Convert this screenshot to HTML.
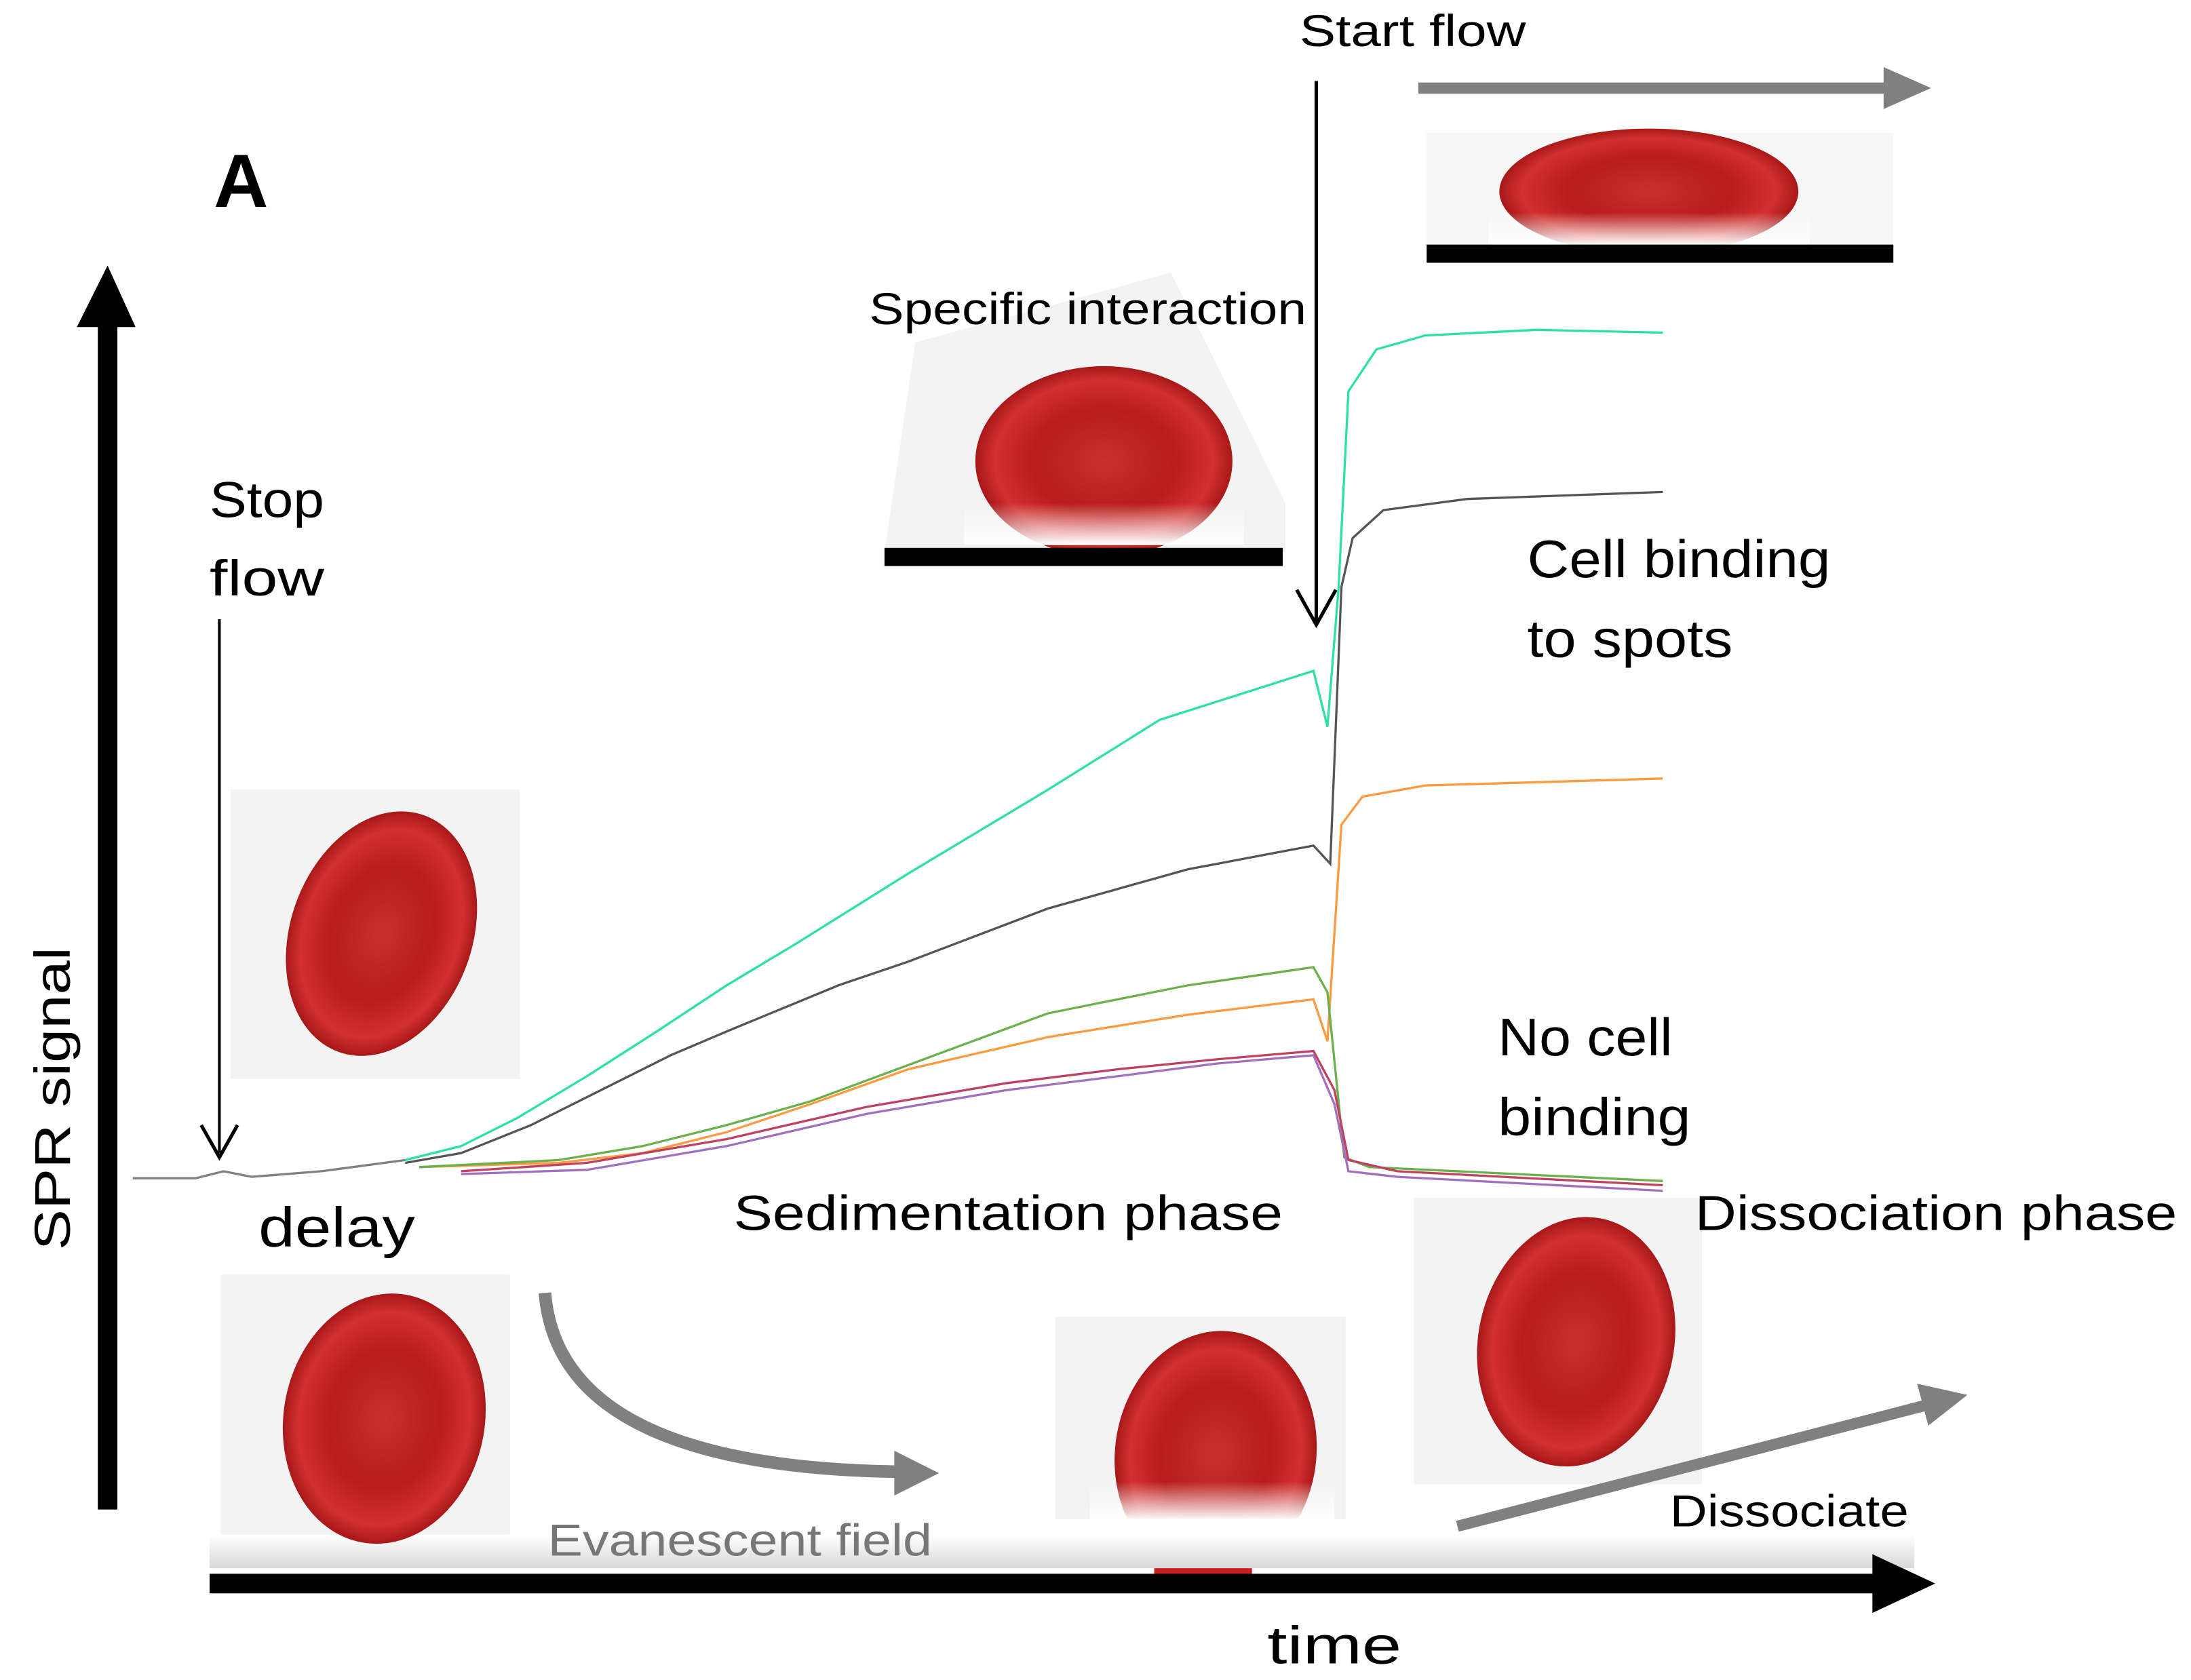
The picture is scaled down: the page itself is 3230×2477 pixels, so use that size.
<!DOCTYPE html>
<html><head><meta charset="utf-8"><style>
html,body{margin:0;padding:0;background:#fff;}
svg{display:block;}
text{font-family:"Liberation Sans","DejaVu Sans",sans-serif;fill:#000;}
</style></head><body>
<svg width="3230" height="2477" viewBox="0 0 1568 1202" preserveAspectRatio="none" xmlns="http://www.w3.org/2000/svg">
<defs>
<radialGradient id="rbc" cx="50%" cy="50%" r="50%">
<stop offset="0" stop-color="#c8302f"/><stop offset="0.55" stop-color="#b81c1c"/><stop offset="0.85" stop-color="#d23030"/><stop offset="1" stop-color="#a81818"/>
</radialGradient>
<linearGradient id="surf" x1="0" y1="0" x2="0" y2="1">
<stop offset="0" stop-color="#fff"/><stop offset="1" stop-color="#d8d8d8"/>
</linearGradient>
<linearGradient id="fade" x1="0" y1="0" x2="0" y2="1">
<stop offset="0" stop-color="#fff" stop-opacity="0"/><stop offset="1" stop-color="#fff" stop-opacity="1"/>
</linearGradient>
<clipPath id="c3"><rect x="740" y="930" width="240" height="157"/></clipPath>
</defs>
<rect width="1568" height="1202" fill="#fff"/>

<rect x="165" y="565" width="207" height="207" fill="#f3f3f3"/>
<rect x="158" y="912" width="207" height="193" fill="#f3f3f3"/>
<rect x="755" y="942" width="208" height="145" fill="#f3f3f3"/>
<rect x="1012" y="857" width="206" height="205" fill="#f3f3f3"/>
<polygon points="655,245 838,195 920,360 920,395 633,395" fill="#f3f3f3"/>
<rect x="1021" y="95" width="334" height="80" fill="#f6f6f6"/>

<rect x="150" y="1098" width="1220" height="24" fill="url(#surf)"/>

<ellipse cx="273" cy="668" rx="65" ry="90" transform="rotate(20 273 668)" fill="url(#rbc)"/>
<ellipse cx="275" cy="1015" rx="72" ry="90" transform="rotate(10 275 1015)" fill="url(#rbc)"/>
<g clip-path="url(#c3)">
<ellipse cx="870" cy="1040" rx="72" ry="88" transform="rotate(8 870 1040)" fill="url(#rbc)"/>
<rect x="780" y="1060" width="175" height="28" fill="url(#fade)"/>
</g>
<ellipse cx="1128" cy="960" rx="70" ry="90" transform="rotate(12 1128 960)" fill="url(#rbc)"/>
<ellipse cx="790" cy="330" rx="92" ry="68" fill="url(#rbc)"/>
<rect x="690" y="360" width="200" height="30" fill="url(#fade)"/>
<rect x="633" y="392" width="285" height="13" fill="#000"/>
<ellipse cx="1180" cy="137" rx="107" ry="45" fill="url(#rbc)"/>
<rect x="1065" y="152" width="230" height="24" fill="url(#fade)"/>
<rect x="1021" y="175" width="334" height="13" fill="#000"/>
<rect x="826" y="1122" width="70" height="5" fill="#c82020"/>

<line x1="77" y1="1080" x2="77" y2="228" stroke="#000" stroke-width="14"/>
<polygon points="55,234 77,190 97,234" fill="#000"/>
<line x1="150" y1="1133" x2="1345" y2="1133" stroke="#000" stroke-width="14"/>
<polygon points="1340,1112 1385,1133 1340,1154" fill="#000"/>

<line x1="1015" y1="63" x2="1350" y2="63" stroke="#808080" stroke-width="8"/>
<polygon points="1348,48 1382,63 1348,78" fill="#808080"/>
<path d="M390,925 Q400,1050 645,1053" fill="none" stroke="#808080" stroke-width="9"/>
<polygon points="640,1038 672,1054 640,1070" fill="#808080"/>
<line x1="1043" y1="1092" x2="1380" y2="1005" stroke="#808080" stroke-width="8"/>
<polygon points="1372,990 1408,998 1380,1020" fill="#808080"/>

<g fill="none" stroke-width="1.6">
<polyline stroke="#808080" points="95,843 140,843 160,838 180,842 230,838 290,830"/>
<polyline stroke="#2de0a8" points="290,830 330,820 370,800 420,770 470,738 520,705 570,675 650,625 750,565 830,515 940,480 950,520 958,420 965,280 985,250 1020,240 1100,236 1190,238"/>
<polyline stroke="#555" points="290,832 330,825 380,805 430,780 480,755 520,738 600,705 650,688 750,650 850,622 940,605 952,618 960,420 968,385 990,365 1050,357 1190,352"/>
<polyline stroke="#ff9a40" points="300,835 400,832 460,825 520,810 580,790 650,765 750,742 850,726 940,715 950,745 960,590 975,570 1020,562 1190,557"/>
<polyline stroke="#6ab04c" points="300,835 400,830 460,820 520,805 580,788 650,762 750,725 850,705 940,692 950,710 962,828 980,835 1190,845"/>
<polyline stroke="#c04060" points="330,838 420,832 520,815 620,792 720,775 800,765 870,758 940,752 955,780 965,830 1000,838 1190,848"/>
<polyline stroke="#a070c0" points="330,840 420,837 520,820 620,797 720,780 800,770 870,761 940,755 955,790 965,838 1000,842 1190,852"/>
</g>

<line x1="157" y1="443" x2="157" y2="825" stroke="#000" stroke-width="2"/>
<polyline points="144,805 157,828 170,805" fill="none" stroke="#000" stroke-width="2.5"/>
<line x1="942" y1="58" x2="942" y2="445" stroke="#000" stroke-width="2.5"/>
<polyline points="928,422 942,447 956,422" fill="none" stroke="#000" stroke-width="2.5"/>

<text x="153" y="148" font-size="54" font-weight="bold">A</text>
<text transform="translate(50,786) rotate(-90)" text-anchor="middle" font-size="36" textLength="217" lengthAdjust="spacingAndGlyphs">SPR signal</text>
<text x="907" y="1190" font-size="38" textLength="96" lengthAdjust="spacingAndGlyphs">time</text>
<text x="150" y="370" font-size="36" textLength="82" lengthAdjust="spacingAndGlyphs">Stop</text>
<text x="150" y="426" font-size="36" textLength="82" lengthAdjust="spacingAndGlyphs">flow</text>
<text x="930" y="33" font-size="32" textLength="162" lengthAdjust="spacingAndGlyphs">Start flow</text>
<text x="622" y="232" font-size="32" textLength="313" lengthAdjust="spacingAndGlyphs">Specific interaction</text>
<text x="1093" y="413" font-size="38" textLength="217" lengthAdjust="spacingAndGlyphs">Cell binding</text>
<text x="1093" y="470" font-size="38" textLength="147" lengthAdjust="spacingAndGlyphs">to spots</text>
<text x="1072" y="755" font-size="38" textLength="125" lengthAdjust="spacingAndGlyphs">No cell</text>
<text x="1072" y="812" font-size="38" textLength="138" lengthAdjust="spacingAndGlyphs">binding</text>
<text x="525" y="880" font-size="35" textLength="393" lengthAdjust="spacingAndGlyphs">Sedimentation phase</text>
<text x="1213" y="880" font-size="35" textLength="345" lengthAdjust="spacingAndGlyphs">Dissociation phase</text>
<text x="185" y="892" font-size="40" textLength="112" lengthAdjust="spacingAndGlyphs">delay</text>
<text x="392" y="1113" font-size="32" style="fill:#777" textLength="275" lengthAdjust="spacingAndGlyphs">Evanescent field</text>
<text x="1195" y="1092" font-size="32" textLength="171" lengthAdjust="spacingAndGlyphs">Dissociate</text>
</svg>
</body></html>
